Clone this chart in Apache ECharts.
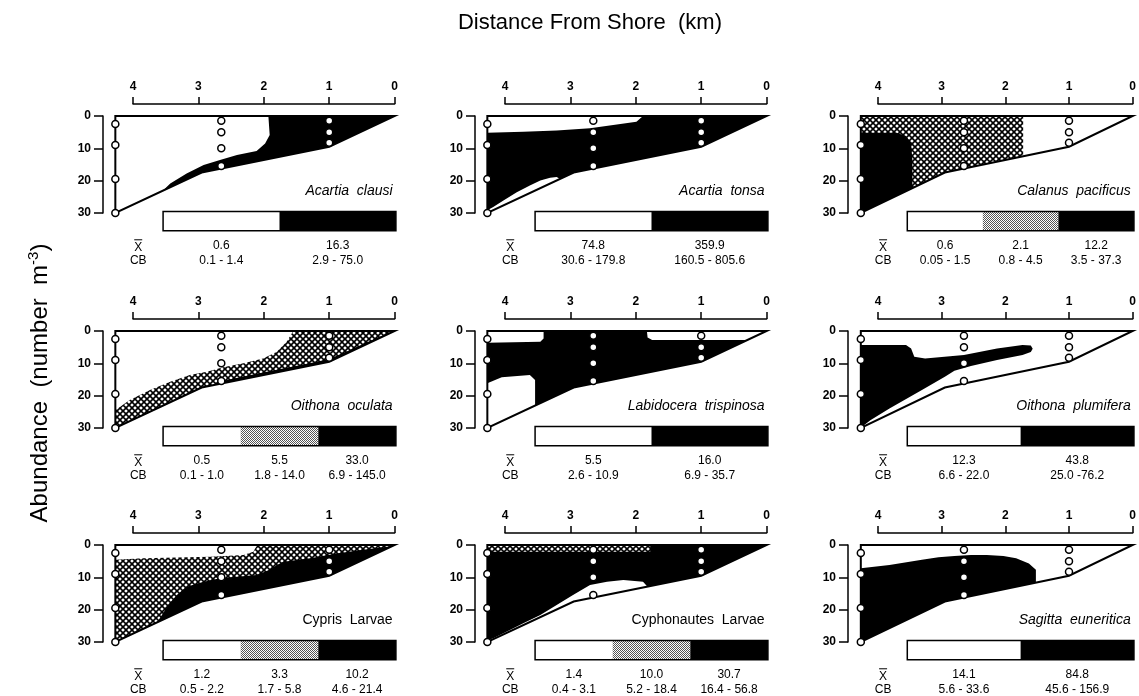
<!DOCTYPE html>
<html><head><meta charset="utf-8">
<script src="https://cdn.jsdelivr.net/npm/echarts@6/dist/echarts.min.js"></script>
<style>html,body{margin:0;padding:0;background:#fff}#c{width:1139px;height:696px}</style>
</head><body><div id="c"></div>
<script>
// ---------- data ----------
const xTicks = [0, 1, 2, 3, 4];
const yTicks = [0, 10, 20, 30];
const bottomKm = [0, 1, 2.95, 4.27];
const bottomDepth = [0, 9.5, 17.5, 30];
const stationKm = [4.27, 2.65, 1.0];
const stationDepths = [[2.5, 9, 19.5, 30], [1.5, 5, 10, 15.5], [1.5, 5, 8.3]];

const species = ['Acartia  clausi', 'Acartia  tonsa', 'Calanus  pacificus',
  'Oithona  oculata', 'Labidocera  trispinosa', 'Oithona  plumifera',
  'Cypris  Larvae', 'Cyphonautes  Larvae', 'Sagitta  euneritica'];
const italicName = [true, true, true, true, true, true, false, false, true];
// class codes: 0 = low (white), 1 = medium (hatched), 2 = high (black)
const classes = [[0, 2], [0, 2], [0, 1, 2], [0, 1, 2], [0, 2], [0, 2], [0, 1, 2], [0, 1, 2], [0, 2]];
const means = [[0.6, 16.3], [74.8, 359.9], [0.6, 2.1, 12.2], [0.5, 5.5, 33.0], [5.5, 16.0],
  [12.3, 43.8], [1.2, 3.3, 10.2], [1.4, 10.0, 30.7], [14.1, 84.8]];
const cbRanges = [['0.1 - 1.4', '2.9 - 75.0'], ['30.6 - 179.8', '160.5 - 805.6'],
  ['0.05 - 1.5', '0.8 - 4.5', '3.5 - 37.3'], ['0.1 - 1.0', '1.8 - 14.0', '6.9 - 145.0'],
  ['2.6 - 10.9', '6.9 - 35.7'], ['6.6 - 22.0', '25.0 -76.2'],
  ['0.5 - 2.2', '1.7 - 5.8', '4.6 - 21.4'], ['0.4 - 3.1', '5.2 - 18.4', '16.4 - 56.8'],
  ['5.6 - 33.6', '45.6 - 156.9']];

const transect = [[bottomKm[3], 0]].concat(bottomKm.map((k, i) => [k, bottomDepth[i]]));

// distribution regions: [class, [[km, depth], ...]] drawn in order
const regAcartiaClausi = [
  [2, [[1.93, 0], [0, 0], [0, 30], [3.72, 30], [3.64, 25], [3.43, 20.9], [3.18, 17.8], [2.92, 15.2],
    [2.67, 13.6], [2.41, 12.1], [2.11, 10.8], [1.98, 8.5], [1.91, 5.9]]]
];
const regAcartiaTonsa = [
  [2, transect],
  [0, [[4.27, 0], [1.89, 0], [1.99, 1.8], [2.7, 3.8], [3.21, 4.5], [3.72, 4.9], [4.27, 5.2]]],
  [0, [[3.15, 19.6], [3.21, 18.9], [3.31, 19.1], [3.46, 20.0], [3.62, 21.5], [3.82, 23.6], [4.03, 26.2],
    [4.18, 28.2], [4.27, 29.2], [4.27, 30], [3.15, 30]]]
];
const regCalanus = [
  [1, [[4.27, 0], [1.72, 0], [1.72, 30], [4.27, 30]]],
  [2, [[4.27, 5.2], [3.71, 5.2], [3.56, 6.2], [3.48, 8.5], [3.46, 13.6], [3.46, 30], [4.27, 30]]]
];
const regOithonaOculata = [
  [1, [[4.27, 24.5], [4.05, 21.4], [3.74, 18.3], [3.43, 15.7], [3.13, 13.6], [2.87, 12.6], [2.62, 11.2],
    [2.31, 10.0], [2.01, 8.5], [1.80, 6.4], [1.65, 3.3], [1.57, 0.7], [1.55, 0], [0, 0], [0, 30], [4.27, 30]]],
  [2, [[2.75, 16.4], [2.67, 15.6], [2.2, 13.6], [1.8, 12.0], [1.3, 10.0], [1.0, 8.7], [0.7, 6.0],
    [0.3, 2.4], [0.1, 0.8], [0, 0], [0, 30], [2.75, 30]]]
];
const regLabidocera = [
  [2, transect],
  [0, [[4.27, 0], [3.41, 0], [3.41, 2.3], [3.46, 3.3], [4.27, 3.6]]],
  [0, [[1.83, 0], [0, 0], [0, 2.8], [1.75, 2.8], [1.82, 2.0]]],
  [0, [[4.27, 16.2], [4.05, 14.3], [3.62, 13.6], [3.54, 15.2], [3.54, 30], [4.27, 30]]]
];
const regOithonaPlumifera = [
  [2, [[4.27, 4.3], [3.56, 4.3], [3.48, 5.4], [3.43, 8.0], [3.26, 8.5], [2.65, 7.4], [2.13, 5.4],
    [1.73, 4.3], [1.6, 4.5], [1.57, 5.5], [1.6, 6.5], [1.73, 7.4], [2.13, 9.0], [2.54, 10.8],
    [2.80, 12.3], [2.95, 14.2], [3.31, 18.3], [3.82, 24.0], [4.12, 27.6], [4.22, 29.2], [4.27, 29.5]]]
];
const regCypris = [
  [1, transect],
  [0, [[4.27, 0], [2.11, 0], [2.11, 0.3], [2.16, 2.1], [2.31, 3.1], [2.82, 3.6], [3.84, 4.1], [4.27, 4.6]]],
  [2, [[3.64, 24.3], [3.59, 22.7], [3.46, 18.6], [3.33, 15.5], [3.18, 12.9], [2.92, 11.4], [2.67, 10.3],
    [2.41, 9.8], [2.11, 9.3], [1.91, 7.7], [1.80, 6.2], [1.70, 5.2], [1.29, 4.1], [0.89, 2.6],
    [0.48, 1.5], [0.17, 0.7], [0, 0.2], [0, 30], [3.64, 30]]]
];
const regCyphonautes = [
  [2, transect],
  [1, [[4.27, 0], [1.78, 0], [1.78, 2.1], [4.27, 2.1]]],
  [0, [[1.82, 12.9], [1.89, 11.4], [2.19, 10.8], [2.44, 11.4], [2.70, 12.4], [2.96, 15.5], [3.21, 18.6],
    [3.46, 21.7], [3.72, 24.2], [3.97, 26.8], [4.18, 28.9], [4.27, 29.6], [4.27, 30], [1.82, 30]]]
];
const regSagitta = [
  [2, [[4.27, 7.2], [3.82, 6.2], [3.31, 4.6], [3.05, 3.8], [2.80, 3.4], [2.54, 3.1], [2.29, 3.1],
    [2.03, 3.4], [1.83, 4.1], [1.63, 5.7], [1.52, 7.7], [1.52, 30], [4.27, 30]]]
];
const panelRegions = [regAcartiaClausi, regAcartiaTonsa, regCalanus, regOithonaOculata, regLabidocera,
  regOithonaPlumifera, regCypris, regCyphonautes, regSagitta];

// ---------- layout ----------
const FONT = 'Liberation Sans, Arial, Helvetica, sans-serif';
const X4 = [133, 505, 878];
const Y0 = [116, 331, 545];
const PXKM = 65.4, PXM = 3.23;
const BAR_L = 3.54, BAR_R = -0.02, BAR_T = 29.6, BAR_B = 35.5, VAL_D = 40.2, CB_D = 44.9, KEYLAB_KM = 3.92;
const mask = bottomKm.map((k, i) => [k, bottomDepth[i]]).concat([[4.27, 30.6], [-0.1, 30.6], [-0.1, 0]]);

function makeHatch(size, lw) {
  const c = document.createElement('canvas');
  c.width = c.height = size;
  const g = c.getContext('2d');
  g.fillStyle = '#fff'; g.fillRect(0, 0, size, size);
  g.strokeStyle = '#000'; g.lineWidth = lw;
  g.beginPath();
  g.moveTo(-1, -1); g.lineTo(size + 1, size + 1);
  g.moveTo(size + 1, -1); g.lineTo(-1, size + 1);
  g.stroke();
  return c;
}
function makeFine() {
  const c = document.createElement('canvas');
  c.width = c.height = 2;
  const g = c.getContext('2d');
  g.fillStyle = '#fff'; g.fillRect(0, 0, 2, 2);
  g.fillStyle = '#555'; g.fillRect(0, 0, 1, 1); g.fillRect(1, 1, 1, 1);
  return c;
}
const fills = ['#ffffff', { image: makeHatch(6, 1.6), repeat: 'repeat' }, '#000000'];
const barFills = ['#ffffff', { image: makeFine(), repeat: 'repeat' }, '#000000'];

const grids = [], xAxes = [], yAxes = [], series = [];
for (let i = 0; i < 9; i++) {
  const r = Math.floor(i / 3), c = i % 3;
  grids.push({ left: X4[c], top: Y0[r], width: 4 * PXKM, height: 30 * PXM, containLabel: false });
  xAxes.push({
    gridIndex: i, type: 'value', min: xTicks[0], max: xTicks[xTicks.length - 1], interval: 1, inverse: true,
    position: 'top', offset: 12,
    axisLine: { show: true, onZero: false, lineStyle: { color: '#000', width: 1.5 } },
    axisTick: { show: true, length: 7, lineStyle: { color: '#000', width: 1.5 } },
    axisLabel: { color: '#000', fontSize: 12, fontWeight: 'bold', margin: 11, fontFamily: FONT },
    splitLine: { show: false }
  });
  yAxes.push({
    gridIndex: i, type: 'value', min: yTicks[0], max: yTicks[yTicks.length - 1], interval: 10, inverse: true,
    position: 'left', offset: 30,
    axisLine: { show: true, onZero: false, lineStyle: { color: '#000', width: 1.5 } },
    axisTick: { show: true, length: 9, lineStyle: { color: '#000', width: 1.5 } },
    axisLabel: { color: '#000', fontSize: 12, fontWeight: 'bold', margin: 12, fontFamily: FONT },
    splitLine: { show: false }
  });
  const regs = panelRegions[i];
  series.push({
    type: 'custom', xAxisIndex: i, yAxisIndex: i, clip: false, silent: true, z: 2,
    data: regs.map((_, j) => [j]),
    renderItem: (params, api) => {
      const reg = regs[params.dataIndex];
      return { type: 'polygon', shape: { points: reg[1].map(p => api.coord(p)) },
        style: { fill: fills[reg[0]], stroke: 'none' } };
    }
  });
  series.push({
    type: 'custom', xAxisIndex: i, yAxisIndex: i, clip: false, silent: true, z: 3,
    data: [[0]],
    renderItem: (params, api) => {
      const lab = api.coord([0.03, 23.3]);
      return { type: 'group', children: [
        { type: 'polygon', shape: { points: mask.map(p => api.coord(p)) }, style: { fill: '#fff', stroke: 'none' } },
        { type: 'polygon', shape: { points: transect.map(p => api.coord(p)) },
          style: { fill: 'none', stroke: '#000', lineWidth: 2, lineJoin: 'miter' } },
        { type: 'text', style: { text: species[i], x: lab[0], y: lab[1], align: 'right', verticalAlign: 'middle',
          textAlign: 'right', textVerticalAlign: 'middle', fontSize: 14, fontFamily: FONT,
          fontStyle: italicName[i] ? 'italic' : 'normal', fill: '#000' } }
      ] };
    }
  });
  const pts = [];
  stationKm.forEach((k, s) => stationDepths[s].forEach(d => pts.push([k, d])));
  series.push({
    type: 'scatter', xAxisIndex: i, yAxisIndex: i, clip: false, silent: true, z: 4,
    symbol: 'circle', symbolSize: 7, data: pts,
    itemStyle: { color: '#fff', borderColor: '#000', borderWidth: 1.5, opacity: 1 }
  });
  const cls = classes[i];
  const n = cls.length;
  series.push({
    type: 'custom', xAxisIndex: i, yAxisIndex: i, clip: false, silent: true, z: 5,
    data: cls.map((_, j) => [j]),
    renderItem: (params, api) => {
      const j = params.dataIndex;
      const w = (BAR_L - BAR_R) / n;
      const x0 = BAR_L - j * w, x1 = x0 - w;
      const p0 = api.coord([x0, BAR_T]), p1 = api.coord([x1, BAR_B]);
      const pv = api.coord([(x0 + x1) / 2, VAL_D]), pc = api.coord([(x0 + x1) / 2, CB_D]);
      const txt = (t, p) => ({ type: 'text', style: { text: t, x: p[0], y: p[1], align: 'center', verticalAlign: 'middle',
        textAlign: 'center', textVerticalAlign: 'middle', fontSize: 12, fontFamily: FONT, fill: '#000' } });
      const children = [
        { type: 'rect', shape: { x: p0[0], y: p0[1], width: p1[0] - p0[0], height: p1[1] - p0[1] },
          style: { fill: barFills[cls[j]], stroke: 'none' } },
        txt(means[i][j].toFixed(1), pv),
        txt(cbRanges[i][j], pc)
      ];
      if (j === n - 1) {
        const b0 = api.coord([BAR_L, BAR_T]), b1 = api.coord([BAR_R, BAR_B]);
        children.push({ type: 'rect', z2: 20, shape: { x: b0[0], y: b0[1], width: b1[0] - b0[0], height: b1[1] - b0[1] },
          style: { fill: 'none', stroke: '#000', lineWidth: 1.5 } });
        const px = api.coord([KEYLAB_KM, VAL_D + 0.6]), pcb = api.coord([KEYLAB_KM, CB_D]);
        children.push(txt('X', px));
        children.push({ type: 'line', shape: { x1: px[0] - 4, y1: px[1] - 8, x2: px[0] + 4, y2: px[1] - 8 },
          style: { stroke: '#000', lineWidth: 1 } });
        children.push(txt('CB', pcb));
      }
      return { type: 'group', children };
    }
  });
}

const chart = echarts.init(document.getElementById('c'), null, { renderer: 'canvas' });
chart.setOption({
  animation: false,
  backgroundColor: '#fff',
  grid: grids, xAxis: xAxes, yAxis: yAxes, series,
  graphic: [
    { type: 'text', x: 590, y: 23, silent: true,
      style: { text: 'Distance From Shore  (km)', fontSize: 22, fontFamily: FONT, fill: '#000',
        align: 'center', verticalAlign: 'middle', textAlign: 'center', textVerticalAlign: 'middle' } },
    { type: 'text', x: 40, y: 383, rotation: Math.PI / 2, silent: true,
      style: { text: '{a|Abundance  (number  m}{s|-3}{a|)}', fill: '#000',
        align: 'center', verticalAlign: 'middle', textAlign: 'center', textVerticalAlign: 'middle',
        rich: { a: { fontSize: 24, fontFamily: FONT, lineHeight: 28 },
                s: { fontSize: 15, fontFamily: FONT, lineHeight: 28, verticalAlign: 'top', padding: [0, 0, 11, 0] } } } }
  ]
});
</script></body></html>
